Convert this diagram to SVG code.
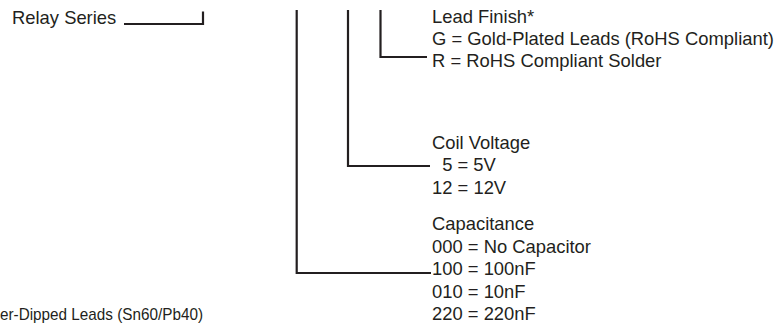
<svg xmlns="http://www.w3.org/2000/svg" width="783" height="324" viewBox="0 0 783 324">
<style>
.t{font-family:"Liberation Sans",Arial,sans-serif;font-size:18.4px;fill:#231f20}
.n{font-family:"Liberation Sans Narrow","Liberation Sans",Arial,sans-serif;font-size:17px;fill:#231f20}
.c{fill:none;stroke:#231f20;stroke-width:2.2;stroke-linecap:butt;stroke-linejoin:miter}
</style>
<rect width="783" height="324" fill="#fff"/>
<g id="connectors">
<path class="c" d="M124,24 H203 V11.5"/>
<path class="c" d="M296.7,10 V273 H431"/>
<path class="c" d="M348,10 V166 H430"/>
<path class="c" d="M380.5,10 V57 H427"/>
</g>
<g id="relay-series">
<text class="t" x="12" y="24">Relay Series</text>
</g>
<g id="lead-finish">
<text class="t" x="432" y="22.5">Lead Finish*</text>
<text class="t" x="432" y="44.5">G = Gold-Plated Leads (RoHS Compliant)</text>
<text class="t" x="432" y="66.5">R = RoHS Compliant Solder</text>
</g>
<g id="coil-voltage">
<text class="t" x="432" y="148.5">Coil Voltage</text>
<text class="t" x="442.2" y="171">5 = 5V</text>
<text class="t" x="432" y="193.5">12 = 12V</text>
</g>
<g id="capacitance">
<text class="t" x="432" y="230.3">Capacitance</text>
<text class="t" x="432" y="252.7">000 = No Capacitor</text>
<text class="t" x="432" y="275.1">100 = 100nF</text>
<text class="t" x="432" y="297.5">010 = 10nF</text>
<text class="t" x="432" y="319.9">220 = 220nF</text>
</g>
<g id="footnote">
<text class="n" x="0" y="320" textLength="203" lengthAdjust="spacingAndGlyphs">er-Dipped Leads (Sn60/Pb40)</text>
</g>
</svg>
